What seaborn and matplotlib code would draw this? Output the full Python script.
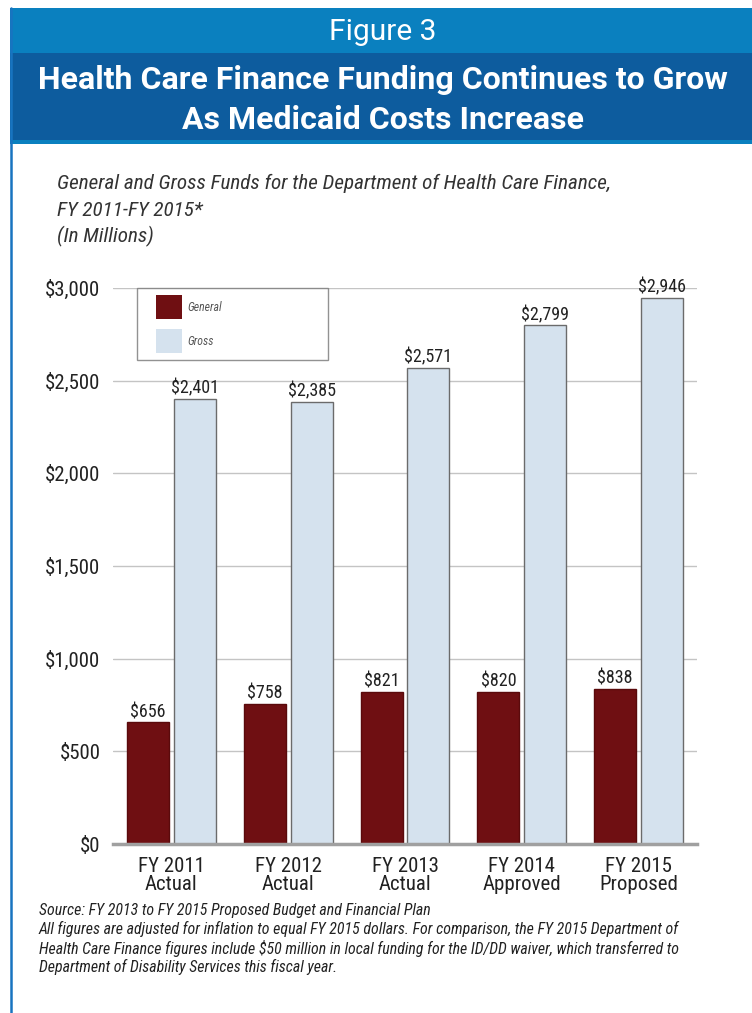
import matplotlib
matplotlib.use("Agg")
import matplotlib.pyplot as plt
from matplotlib.patches import Rectangle
from matplotlib.lines import Line2D
from matplotlib.legend_handler import HandlerPatch
import seaborn as sns
import pandas as pd

# Data (millions of dollars)
years = ["FY 2011\nActual", "FY 2012\nActual", "FY 2013\nActual", "FY 2014\nApproved", "FY 2015\nProposed"]
general = [656, 758, 821, 820, 838]
gross = [2401, 2385, 2571, 2799, 2946]
series = ["General", "Gross"]
y_ticks = [0, 500, 1000, 1500, 2000, 2500, 3000]

df = pd.DataFrame({
    "year": years * 2,
    "fund": [series[0]] * len(years) + [series[1]] * len(years),
    "amount": general + gross,
})

sns.set_theme(style="white")
NARROW = ["Roboto Condensed", "DejaVu Sans"]
WIDE = ["Roboto", "DejaVu Sans"]
plt.rcParams["font.family"] = NARROW

W, H = 752, 1013
fig = plt.figure(figsize=(W / 100, H / 100), dpi=100)
fig.patch.set_facecolor("white")


def fx(px):
    return px / W


def fy(py):
    return 1 - py / H


# Header bands and left frame line
fig.patches.append(Rectangle((fx(10), fy(53)), fx(W - 10), 45 / H, transform=fig.transFigure,
                             facecolor="#0A80BF", edgecolor="none", zorder=0))
fig.patches.append(Rectangle((fx(10), fy(140)), fx(W - 10), 87 / H, transform=fig.transFigure,
                             facecolor="#0D5C9E", edgecolor="none", zorder=0))
fig.patches.append(Rectangle((fx(10), fy(144)), fx(W - 10), 4 / H, transform=fig.transFigure,
                             facecolor="#0A80BF", edgecolor="none", zorder=0))
fig.lines.append(Line2D([fx(11), fx(11)], [fy(8), 0], transform=fig.transFigure,
                        color="#1874C0", linewidth=1.8))

fig.text(fx(383), fy(32), "Figure 3", ha="center", va="center", color="white",
         fontsize=21.5, family=WIDE)
fig.text(fx(383), fy(80), "Health Care Finance Funding Continues to Grow", ha="center", va="center",
         color="white", fontsize=23, fontweight="bold", family=WIDE)
fig.text(fx(383), fy(120), "As Medicaid Costs Increase", ha="center", va="center",
         color="white", fontsize=23, fontweight="bold", family=WIDE)

sub_style = dict(ha="left", va="center", fontsize=15.2, style="italic", color="#333333")
fig.text(fx(57), fy(183), "General and Gross Funds for the Department of Health Care Finance,", **sub_style)
fig.text(fx(57), fy(210), "FY 2011-FY 2015*", **sub_style)
fig.text(fx(57), fy(236), "(In Millions)", **sub_style)

# Chart area
ax = fig.add_axes([fx(113), 1 - 844 / H, (697 - 113) / W, (844 - 288) / H])
sns.barplot(data=df, x="year", y="amount", hue="fund", hue_order=series,
            palette=["#6F0F12", "#D5E2EE"], width=0.8, gap=0.1, saturation=1,
            edgecolor="#6b6b6b", linewidth=1.0, ax=ax, legend=True, clip_on=False)
for bar in ax.containers[0]:
    bar.set_edgecolor("#5a0a0c")

ax.set_xlim(-0.5, 4.5)
ax.set_ylim(0, 3000)
ax.set_yticks(y_ticks)
ax.set_yticklabels([f"${v:,}" for v in y_ticks], fontsize=15, color="#222222")
ax.tick_params(axis="x", labelsize=15, colors="#222222", length=0, pad=9)
ax.tick_params(axis="y", length=0, pad=9)
ax.set_xlabel("")
ax.set_ylabel("")
for t in ax.get_xticklabels():
    t.set_linespacing(0.98)
ax.yaxis.grid(True, color="#c4c4c4", linewidth=1)
ax.set_axisbelow(True)
for s in ["top", "right", "left"]:
    ax.spines[s].set_visible(False)
ax.spines["bottom"].set_color("#a0a0a0")
ax.spines["bottom"].set_linewidth(2.5)

for cont in ax.containers:
    ax.bar_label(cont, labels=[f"${v:,.0f}" for v in cont.datavalues], padding=1,
                 fontsize=13, color="#222222")


def inset_swatch(legend, orig_handle, xdescent, ydescent, width, height, fontsize):
    # leave a margin on the left of each legend swatch
    off = width * 12.0 / 38.0
    return Rectangle((-xdescent + off, -ydescent), width - off, height)


fs_leg = 8.5
leg = ax.legend(loc="upper left", bbox_to_anchor=(24 / 584, 1.0, 191 / 584, 0), mode="expand",
                frameon=True, fancybox=False, fontsize=fs_leg, handlelength=3.2, handleheight=2.75,
                borderpad=0.6, labelspacing=0.85, borderaxespad=0, handletextpad=0.45,
                handler_map={Rectangle: HandlerPatch(patch_func=inset_swatch)})
leg.get_frame().set_edgecolor("#777777")
leg.get_frame().set_linewidth(1)
for txt in leg.get_texts():
    txt.set_style("italic")
    txt.set_color("#555555")
for h in leg.legend_handles:
    h.set_edgecolor("none")
leg.set_title(None)

notes = [
    "Source: FY 2013 to FY 2015 Proposed Budget and Financial Plan",
    "All figures are adjusted for inflation to equal FY 2015 dollars. For comparison, the FY 2015 Department of",
    "Health Care Finance figures include $50 million in local funding for the ID/DD waiver, which transferred to",
    "Department of Disability Services this fiscal year.",
]
for i, line in enumerate(notes):
    fig.text(fx(39), fy(910 + i * 19), line, ha="left", va="center", fontsize=11.4,
             style="italic", color="#222222")

fig.savefig("out.png", dpi=100, facecolor="white")
